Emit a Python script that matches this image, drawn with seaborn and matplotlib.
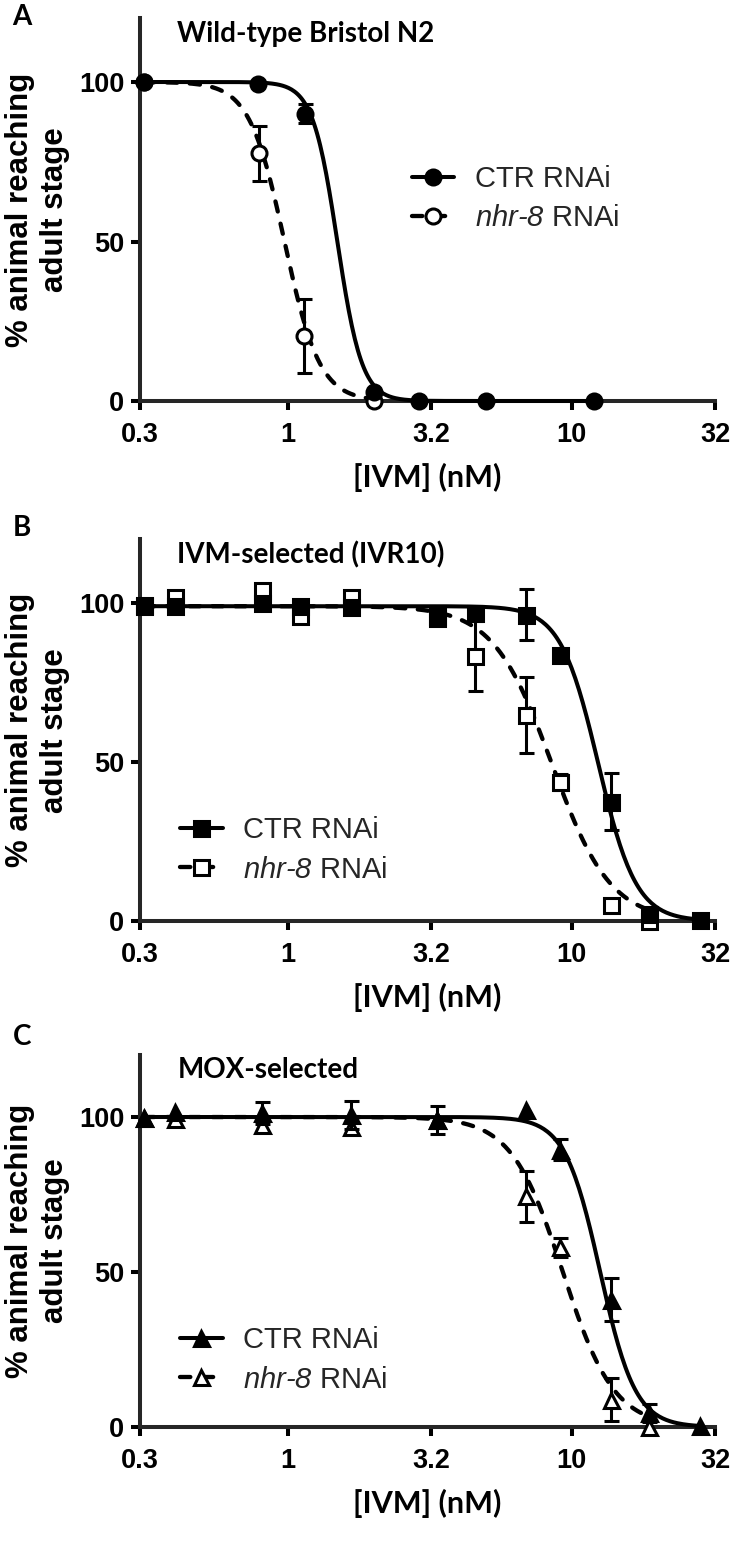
import numpy as np
import pandas as pd
import matplotlib
matplotlib.use("Agg")
import matplotlib.pyplot as plt
from matplotlib.lines import Line2D
from matplotlib.ticker import FixedLocator, FixedFormatter, NullLocator
import seaborn as sns

# ---- data ----
# Panel A: wild-type Bristol N2
a_dose_ctr = [0.31, 0.78, 1.15, 2.0, 2.9, 5.0, 12.0]
a_ctr = [100, 99.5, 90, 2.8, 0, 0, 0]
a_ctr_err = [0, 0, 3, 0, 0, 0, 0]
a_dose_nhr = [0.31, 0.79, 1.14, 2.0]
a_nhr = [100, 77.6, 20.4, 0]
a_nhr_err = [0, 8.5, 11.5, 0]
a_fit_ctr = (100, 1.49, 10.0)   # top, EC50, hill slope
a_fit_nhr = (100, 0.97, 7.0)

# Panel B: IVM-selected (IVR10)
b_dose_ctr = [0.31, 0.40, 0.81, 1.10, 1.67, 3.34, 4.57, 6.9, 9.1, 13.8, 18.7, 28.3]
b_ctr = [99, 99, 100, 99, 98.7, 95.3, 96.8, 96.3, 83.7, 37.5, 2.1, 0.4]
b_ctr_err = [0, 0, 0, 0, 0, 0, 0, 8, 0, 9, 0, 0]
b_dose_nhr = [0.31, 0.40, 0.81, 1.10, 1.67, 3.34, 4.57, 6.9, 9.1, 13.8, 18.7]
b_nhr = [99.5, 102, 104.2, 95.8, 102, 96, 83.2, 64.8, 43.8, 4.9, 0]
b_nhr_err = [0, 0, 0, 0, 0, 0, 11, 12, 2.5, 0, 0]
b_fit_ctr = (99, 12.4, 6.5)
b_fit_nhr = (99, 8.5, 4.2)

# Panel C: MOX-selected
c_dose_ctr = [0.31, 0.40, 0.81, 1.67, 3.34, 6.9, 9.1, 13.8, 18.7, 28.3]
c_ctr = [99.7, 101.5, 101.3, 100.6, 99.1, 102.4, 89.5, 41.1, 4.5, 0.2]
c_ctr_err = [0, 0, 3.5, 4.5, 4.5, 0, 3.5, 7, 3, 0]
c_dose_nhr = [0.31, 0.40, 0.81, 1.67, 3.34, 6.9, 9.1, 13.8, 18.7]
c_nhr = [99.7, 99.5, 97.4, 96.8, 99, 74.4, 58, 8.8, 0]
c_nhr_err = [0, 0, 0, 0, 0, 8.3, 3, 7, 0]
c_fit_ctr = (100, 12.6, 7.0)
c_fit_nhr = (100, 9.3, 4.8)

x_ticks = [0.3, 1, 3.2, 10, 32]
x_tick_labels = ["0.3", "1", "3.2", "10", "32"]
y_ticks = [0, 50, 100]

# ---- style ----
sns.set_theme(style="ticks")
plt.rcParams["font.family"] = ["Liberation Sans", "DejaVu Sans"]
plt.rcParams["mathtext.fontset"] = "custom"
plt.rcParams["mathtext.it"] = "Liberation Sans:italic"
plt.rcParams["mathtext.rm"] = "Liberation Sans:italic"

LW = 2.9        # axis / curve width (pt)
MS = 10.8
MEW = 2.2
DASH = (2.4, 2.9)
TITLE_FONT = ["Lato", "Liberation Sans"]

W, H = 733.0, 1545.0
fig = plt.figure(figsize=(W / 100, H / 100), dpi=100)


def hill(x, top, ec50, slope):
    return top / (1 + (x / ec50) ** slope)


def draw_panel(y0_px, y120_px, letter, letter_y, title, marker,
               dose_ctr, ctr, ctr_err, dose_nhr, nhr, nhr_err,
               fit_ctr, fit_nhr, leg_anchor):
    ax = fig.add_axes([140 / W, 1 - y0_px / H, 575 / W, (y0_px - y120_px) / H])
    ax.set_xscale("log")
    ax.set_xlim(0.3, 32)
    ax.set_ylim(0, 120)

    # fitted curves over each series' dose range
    for dose, fit, dashed in [(dose_nhr, fit_nhr, True), (dose_ctr, fit_ctr, False)]:
        xs = np.geomspace(min(dose), max(dose), 300)
        curve = pd.DataFrame({"dose": xs, "pct": hill(xs, *fit)})
        sns.lineplot(data=curve, x="dose", y="pct", ax=ax, color="black",
                     linewidth=LW, sort=False, estimator=None, zorder=3)
        ln = ax.lines[-1]
        ln.set_clip_on(False)
        if dashed:
            ln.set_linewidth(3.1)
            ln.set_dashes(DASH)
            ln.set_dash_capstyle("round")

    # points + error bars (nhr-8 below, CTR on top)
    for dose, vals, errs, face, z in [(dose_nhr, nhr, nhr_err, "white", 5),
                                      (dose_ctr, ctr, ctr_err, "black", 7)]:
        d = np.array(dose)
        v = np.array(vals, dtype=float)
        e = np.array(errs, dtype=float)
        m = e > 0
        if m.any():
            ax.errorbar(d[m], v[m], yerr=e[m], fmt="none", ecolor="black",
                        elinewidth=2.2, capsize=5.4, capthick=2.2, zorder=z - 1,
                        clip_on=False)
        ax.plot(d, v, ls="none", marker=marker, ms=MS, mfc=face, mec="black",
                mew=MEW, zorder=z, clip_on=False)

    # axes styling
    sns.despine(ax=ax)
    ax.spines["left"].set_linewidth(LW)
    ax.spines["bottom"].set_linewidth(LW)
    ax.spines["left"].set_capstyle("projecting")
    ax.spines["bottom"].set_capstyle("projecting")
    ax.xaxis.set_major_locator(FixedLocator(x_ticks))
    ax.xaxis.set_major_formatter(FixedFormatter(x_tick_labels))
    ax.xaxis.set_minor_locator(NullLocator())
    ax.set_yticks(y_ticks)
    ax.tick_params(axis="both", direction="out", length=6.8, width=LW,
                   color="black", labelcolor="black")
    ax.tick_params(axis="x", pad=8)
    ax.tick_params(axis="y", pad=4.5)
    for lab in ax.get_xticklabels() + ax.get_yticklabels():
        lab.set_fontsize(19.5)
        lab.set_fontweight("bold")
    ax.set_xlabel("[IVM] (nM)", fontsize=22, fontweight="bold",
                  family=TITLE_FONT, color="black")
    ax.xaxis.set_label_coords(0.5, -62 / (y0_px - y120_px))
    ax.set_ylabel("")
    ax.set_facecolor("white")

    ax.text(0.065, 115, title, transform=ax.get_yaxis_transform(),
            fontsize=20, fontweight="bold", family=TITLE_FONT, va="center",
            ha="left", color="black")

    ymid = 1 - (y0_px + y120_px) / 2 / H
    fig.text(37.5 / W, ymid, "% animal reaching\nadult stage", rotation=90,
             ha="center", va="center", multialignment="center",
             fontsize=22.5, fontweight="bold", color="black", linespacing=1.2)
    fig.text(22 / W, 1 - letter_y / H, letter, ha="center", va="center",
             fontsize=20, fontweight="bold", family=TITLE_FONT, color="black")

    handles = [
        Line2D([], [], color="black", lw=LW, marker=marker, ms=MS, mfc="black",
               mec="black", mew=MEW),
        Line2D([], [], color="black", lw=3.1, dashes=DASH, dash_capstyle="round",
               marker=marker, ms=MS, mfc="white", mec="black", mew=MEW),
    ]
    labels = ["CTR RNAi", r"$\mathrm{nhr\text{-}8}$ RNAi"]
    ax.legend(handles, labels, loc="center left", bbox_to_anchor=leg_anchor,
              frameon=False, fontsize=21, handlelength=1.45, handletextpad=0.7,
              labelspacing=0.38, borderpad=0, borderaxespad=0)
    return ax


draw_panel(401, 18.2, "A", 17, "Wild-type Bristol N2", "o",
           a_dose_ctr, a_ctr, a_ctr_err, a_dose_nhr, a_nhr, a_nhr_err,
           a_fit_ctr, a_fit_nhr, (0.473, 0.528))
draw_panel(921, 539.4, "B", 528, "IVM-selected (IVR10)", "s",
           b_dose_ctr, b_ctr, b_ctr_err, b_dose_nhr, b_nhr, b_nhr_err,
           b_fit_ctr, b_fit_nhr, (0.07, 0.186))
draw_panel(1427, 1055, "C", 1037, "MOX-selected", "^",
           c_dose_ctr, c_ctr, c_ctr_err, c_dose_nhr, c_nhr, c_nhr_err,
           c_fit_ctr, c_fit_nhr, (0.07, 0.18))

fig.savefig("out.png", dpi=100, facecolor="white")
